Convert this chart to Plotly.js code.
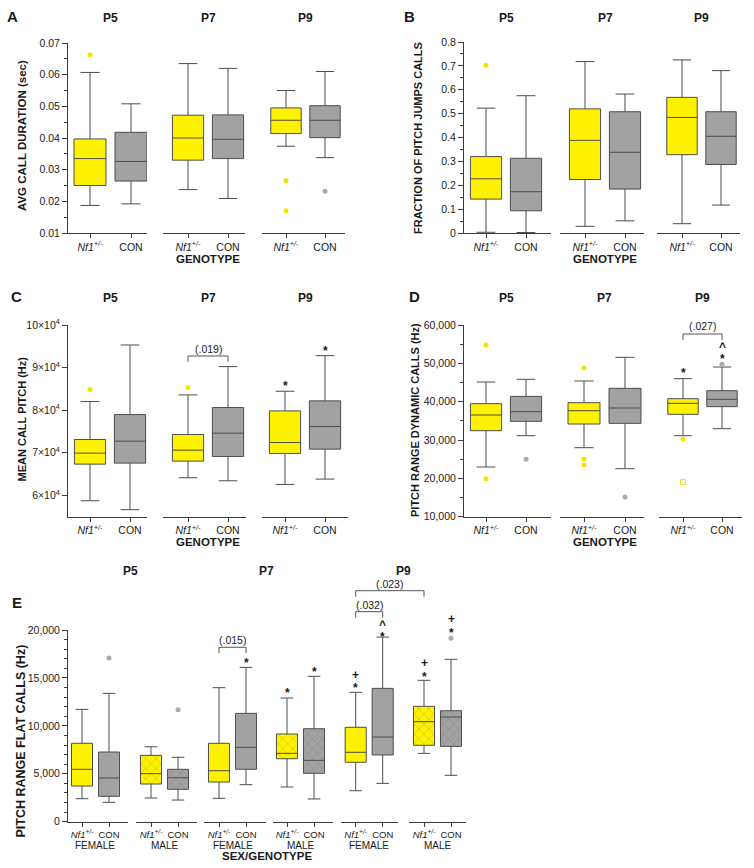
<!DOCTYPE html>
<html>
<head>
<meta charset="utf-8">
<script src="https://cdn.plot.ly/plotly-3.0.1.min.js"></script>
<style>html,body{margin:0;padding:0;background:#fff}#chart{width:754px;height:868px}</style>
</head>
<body>
<div id="chart"></div>
<script>
// ---------- DATA ----------
const ages = ['P5', 'P7', 'P9'];
const genoLabels = ['<i>Nf1<sup>+/-</sup></i>', 'CON'];
const sexLabels = ['FEMALE', 'MALE'];

// box order for A-D: P5 Nf1, P5 CON, P7 Nf1, P7 CON, P9 Nf1, P9 CON
// A: average call duration (sec)
const durLow  = [0.0187, 0.0192, 0.0237, 0.0209, 0.0374, 0.0338];
const durQ1   = [0.0250, 0.0264, 0.0330, 0.0335, 0.0414, 0.0401];
const durMed  = [0.0335, 0.0326, 0.0400, 0.0396, 0.0456, 0.0456];
const durQ3   = [0.0397, 0.0418, 0.0472, 0.0473, 0.0495, 0.0502];
const durHigh = [0.0607, 0.0508, 0.0635, 0.0620, 0.0550, 0.0610];
const durOutBox = [0, 4, 4, 5];
const durOutVal = [0.0663, 0.0265, 0.0170, 0.0232];

// B: fraction of pitch jumps calls
const jumpLow  = [0.003, 0.002, 0.028, 0.051, 0.039, 0.117];
const jumpQ1   = [0.142, 0.093, 0.224, 0.184, 0.328, 0.287];
const jumpMed  = [0.227, 0.173, 0.388, 0.338, 0.484, 0.405];
const jumpQ3   = [0.320, 0.313, 0.520, 0.508, 0.568, 0.508];
const jumpHigh = [0.523, 0.575, 0.718, 0.582, 0.725, 0.680];
const jumpOutBox = [0];
const jumpOutVal = [0.703];

// C: mean call pitch (Hz)
const pitchLow  = [58750, 56640, 64140, 63440, 62580, 63830];
const pitchQ1   = [67340, 67580, 68050, 69140, 69840, 70860];
const pitchMed  = [69920, 72730, 70625, 74610, 72420, 76170];
const pitchQ3   = [73125, 78980, 74300, 80625, 79840, 82190];
const pitchHigh = [82030, 95310, 83590, 90230, 84450, 92810];
const pitchOutBox = [0, 2];
const pitchOutVal = [84840, 85310];
const pitchTickVals = [60000, 70000, 80000, 90000, 100000];
const pitchTickText = ['6×10<sup>4</sup>', '7×10<sup>4</sup>', '8×10<sup>4</sup>', '9×10<sup>4</sup>', '10×10<sup>4</sup>'];

// D: pitch range dynamic calls (Hz)
const dynLow  = [22960, 31130, 28000, 22520, 31130, 32960];
const dynQ1   = [32430, 34870, 34170, 34350, 36700, 38700];
const dynMed  = [36520, 37390, 37650, 38350, 39570, 40610];
const dynQ3   = [39480, 41390, 39740, 43480, 40780, 42870];
const dynHigh = [45130, 45830, 45390, 51570, 46000, 49040];
const dynOutBox = [0, 0, 1, 2, 2, 2, 3, 4, 4, 5];
const dynOutVal = [54780, 19910, 24960, 48780, 24960, 23480, 15130, 30260, 19040, 49740];
const dynOutOpen = [false, false, false, false, false, false, false, false, true, false];

// E: pitch range flat calls (Hz)
// order: P5 F Nf1, P5 F CON, P5 M Nf1, P5 M CON, P7 F Nf1, P7 F CON, P7 M Nf1, P7 M CON, P9 F Nf1, P9 F CON, P9 M Nf1, P9 M CON
const flatLow  = [2400, 2020, 2470, 2260, 2440, 3860, 3620, 2370, 3230, 4000, 7130, 4840];
const flatQ1   = [3720, 2650, 3930, 3380, 4140, 5470, 6570, 5050, 6200, 6960, 7970, 7860];
const flatMed  = [5465, 4560, 5010, 4590, 5320, 7760, 7130, 6400, 7240, 8830, 10430, 10920];
const flatQ3   = [8180, 7270, 6920, 5465, 8180, 11300, 9150, 9700, 9850, 13910, 12040, 11580];
const flatHigh = [11720, 13390, 7820, 6720, 13980, 16100, 12900, 15170, 13500, 19260, 14750, 16940];
const flatOutBox = [1, 3, 11];
const flatOutVal = [17070, 11680, 19130];

// ---------- GEOMETRY / STYLE ----------
const W = 754, H = 868;
const px = x => x / W;
const py = y => 1 - y / H;
const FONT = '"Liberation Sans", Arial, Helvetica, sans-serif';
const YEL = '#fff200', GRY = '#a2a2a2';
const YEL_PT = '#f2e400', GRY_PT = '#ababab';
const LINE = '#4d4d4d', AXC = '#3a3a3a', TXT = '#1a1a1a';

const panels = [
  {letter: 'A', lx: 12.5, ly: 16, title: 'AVG CALL DURATION (sec)', tx: 22, ty: 136, tsize: 11.5,
   yTop: 43, yBot: 233, range: [0.01, 0.07], yt: {dtick: 0.01, tick0: 0.01, tickformat: '.2f', minor: 0.005},
   groups: [[68, 147, 90, 131], [163, 245, 188, 228], [262, 345, 286, 325]],
   low: durLow, q1: durQ1, med: durMed, q3: durQ3, high: durHigh, outBox: durOutBox, outVal: durOutVal,
   ageY: 18, xtitleY: 259, xfont: 10.5},
  {letter: 'B', lx: 409.5, ly: 16, title: 'FRACTION OF PITCH JUMPS CALLS', tx: 418, ty: 138, tsize: 11,
   yTop: 42, yBot: 233, range: [0, 0.8], yt: {dtick: 0.1, tick0: 0, minor: 0.05},
   groups: [[464, 551, 486, 526], [560, 644, 585, 625], [657, 740, 682, 721]],
   low: jumpLow, q1: jumpQ1, med: jumpMed, q3: jumpQ3, high: jumpHigh, outBox: jumpOutBox, outVal: jumpOutVal,
   ageY: 18, xtitleY: 259, xfont: 10.5},
  {letter: 'C', lx: 16.5, ly: 296, title: 'MEAN CALL PITCH (Hz)', tx: 21.5, ty: 419, tsize: 11,
   yTop: 325, yBot: 516.7, range: [55000, 100000], yt: {tickvals: pitchTickVals, ticktext: pitchTickText},
   groups: [[68, 147, 90, 130], [163, 246, 188, 228], [262, 348, 285, 325]],
   low: pitchLow, q1: pitchQ1, med: pitchMed, q3: pitchQ3, high: pitchHigh, outBox: pitchOutBox, outVal: pitchOutVal,
   ageY: 298, xtitleY: 542, xfont: 10.5},
  {letter: 'D', lx: 414, ly: 296, title: 'PITCH RANGE DYNAMIC CALLS (Hz)', tx: 415, ty: 420, tsize: 11,
   yTop: 325, yBot: 516.7, range: [10000, 60000], yt: {dtick: 10000, tick0: 10000, tickformat: ',d', minor: 5000},
   groups: [[464, 551, 486, 526], [560, 644, 584, 625], [659, 742, 683, 722]],
   low: dynLow, q1: dynQ1, med: dynMed, q3: dynQ3, high: dynHigh, outBox: dynOutBox, outVal: dynOutVal, outOpen: dynOutOpen,
   ageY: 298, xtitleY: 542, xfont: 10.5},
  {letter: 'E', lx: 16.5, ly: 602, title: 'PITCH RANGE FLAT CALLS (Hz)', tx: 20.5, ty: 741, tsize: 12.5,
   yTop: 630, yBot: 821.7, range: [0, 20000], yt: {dtick: 5000, tick0: 0, tickformat: ',d', minor: 1000},
   groups: [[68, 128, 82, 109], [136, 197, 151, 178], [204, 266, 219, 246], [273, 333, 287, 314], [341, 398, 355.7, 382.7], [409, 466, 424, 451]],
   low: flatLow, q1: flatQ1, med: flatMed, q3: flatQ3, high: flatHigh, outBox: flatOutBox, outVal: flatOutVal,
   ageY: 571, xtitleY: 856, sexPanel: true, xfont: 9.5}
];

const traces = [];
const layout = {
  width: W, height: H, margin: {l: 0, r: 0, t: 0, b: 0},
  paper_bgcolor: '#fff', plot_bgcolor: 'rgba(0,0,0,0)',
  showlegend: false, hovermode: false, barmode: 'overlay',
  font: {family: FONT, color: TXT},
  annotations: [], shapes: []
};

function ann(text, x, y, size, extra) {
  layout.annotations.push(Object.assign({
    text: text, x: px(x), y: py(y), xref: 'paper', yref: 'paper', showarrow: false,
    xanchor: 'center', yanchor: 'middle', font: {family: FONT, size: size, color: TXT}
  }, extra || {}));
}
function bracket(x1, x2, yTop, yLeg) {
  layout.shapes.push({type: 'path', xref: 'paper', yref: 'paper',
    path: `M ${px(x1)},${py(yLeg)} L ${px(x1)},${py(yTop)} L ${px(x2)},${py(yTop)} L ${px(x2)},${py(yLeg)}`,
    line: {color: '#555', width: 1}});
}
function mark(sym, x, y, size) { ann('<b>' + sym + '</b>', x, y, size || 12); }

let axCount = 0;
panels.forEach((p, pi) => {
  const yref = pi === 0 ? 'y' : 'y' + (pi + 1);
  const yname = pi === 0 ? 'yaxis' : 'yaxis' + (pi + 1);
  const xrefs = [];
  p.groups.forEach((g, gi) => {
    axCount++;
    const xref = axCount === 1 ? 'x' : 'x' + axCount;
    const xname = axCount === 1 ? 'xaxis' : 'xaxis' + axCount;
    xrefs.push(xref);
    const [L, R, t0, t1] = g;
    layout[xname] = {
      domain: [px(L), px(R)], range: [(L - t0) / (t1 - t0), (R - t0) / (t1 - t0)],
      anchor: yref, tickvals: [0, 1], ticktext: genoLabels,
      ticks: 'outside', ticklen: 4, tickcolor: AXC, tickwidth: 1,
      showline: true, linecolor: AXC, linewidth: 1, showgrid: false, zeroline: false,
      tickfont: {family: FONT, size: p.xfont, color: TXT}, fixedrange: true
    };
  });
  const ya = {
    domain: [py(p.yBot), py(p.yTop)], range: p.range, anchor: xrefs[0],
    ticks: 'outside', ticklen: 5, tickcolor: AXC, tickwidth: 1,
    showline: true, linecolor: AXC, linewidth: 1, showgrid: false, zeroline: false,
    tickfont: {family: FONT, size: 10.5, color: TXT}, fixedrange: true
  };
  if (p.yt.tickvals) { ya.tickmode = 'array'; ya.tickvals = p.yt.tickvals; ya.ticktext = p.yt.ticktext; }
  else { ya.dtick = p.yt.dtick; ya.tick0 = p.yt.tick0; if (p.yt.tickformat) ya.tickformat = p.yt.tickformat; }
  if (p.yt.minor) ya.minor = {dtick: p.yt.minor, ticks: 'outside', ticklen: 3, tickcolor: AXC, showgrid: false};
  layout[yname] = ya;

  // boxes
  p.q1.forEach((_, i) => {
    const gi = Math.floor(i / 2), pos = i % 2;
    const fill = pos === 0 ? YEL : GRY;
    const patterned = p.sexPanel && (gi % 2 === 1);
    if (patterned) {
      traces.push({type: 'bar', x: [pos], y: [p.q3[i] - p.q1[i]], base: [p.q1[i]], width: [0.78],
        xaxis: xrefs[gi], yaxis: yref, hoverinfo: 'skip',
        marker: {color: fill, line: {width: 0},
          pattern: {shape: 'x', fgcolor: '#666', size: 7, solidity: 0.12, fillmode: 'overlay'}}});
    }
    traces.push({type: 'box', x: [pos], q1: [p.q1[i]], median: [p.med[i]], q3: [p.q3[i]],
      lowerfence: [p.low[i]], upperfence: [p.high[i]], width: 0.78, whiskerwidth: 0.6,
      xaxis: xrefs[gi], yaxis: yref, boxpoints: false, hoverinfo: 'skip',
      fillcolor: patterned ? 'rgba(0,0,0,0)' : fill, line: {color: LINE, width: 1}});
  });
  // outliers
  p.outBox.forEach((b, k) => {
    const gi = Math.floor(b / 2), pos = b % 2;
    const open = p.outOpen && p.outOpen[k];
    traces.push({type: 'scatter', mode: 'markers', x: [pos], y: [p.outVal[k]],
      xaxis: xrefs[gi], yaxis: yref, hoverinfo: 'skip', cliponaxis: false,
      marker: {size: 5, symbol: open ? 'square-open' : 'circle',
        color: pos === 0 ? YEL_PT : GRY_PT, line: {width: open ? 1 : 0, color: YEL_PT}}});
  });

  // texts
  ann('<b>' + p.letter + '</b>', p.lx, p.ly, 15);
  ann('<b>' + p.title + '</b>', p.tx, p.ty, p.tsize, {textangle: -90});
  if (p.sexPanel) {
    for (let a = 0; a < 3; a++) {
      const gA = p.groups[a * 2], gB = p.groups[a * 2 + 1];
      ann('<b>' + ages[a] + '</b>', (gA[2] + gB[3]) / 2, p.ageY, 12);
    }
    p.groups.forEach((g, gi) => ann(sexLabels[gi % 2], (g[2] + g[3]) / 2, 845, 10));
    ann('<b>SEX/GENOTYPE</b>', 266.5, p.xtitleY, 11.5);
  } else {
    p.groups.forEach((g, gi) => ann('<b>' + ages[gi] + '</b>', (g[2] + g[3]) / 2, p.ageY, 12));
    const g2 = p.groups[1];
    ann('<b>GENOTYPE</b>', (g2[2] + g2[3]) / 2, p.xtitleY, 11.5);
  }
});

// significance markings
// C
bracket(188, 228, 356, 361.7); ann('(.019)', 208, 348.5, 10.5);
mark('*', 285, 386); mark('*', 325, 351);
// D
bracket(683, 722, 334, 340); ann('(.027)', 702.5, 326, 10.5);
mark('*', 683, 373); mark('*', 722, 358.5); mark('^', 722, 347);
// E
bracket(219, 246, 647.3, 653); ann('(.015)', 232.5, 639.5, 10.5);
mark('*', 246, 663); mark('*', 287, 693); mark('*', 314, 672);
mark('+', 355.7, 674.5); mark('*', 355.7, 688);
mark('*', 382.7, 636.5); mark('^', 382.7, 625);
mark('+', 424, 663); mark('*', 424, 676.5);
mark('+', 451, 618.5); mark('*', 451, 632.5);
bracket(355.7, 382.7, 611.7, 617.7); ann('(.032)', 369, 604.5, 10.5);
bracket(355.7, 424, 590.7, 596.7); ann('(.023)', 389.5, 583.5, 10.5);

Plotly.newPlot('chart', traces, layout, {staticPlot: true, displayModeBar: false});
</script>
</body>
</html>
